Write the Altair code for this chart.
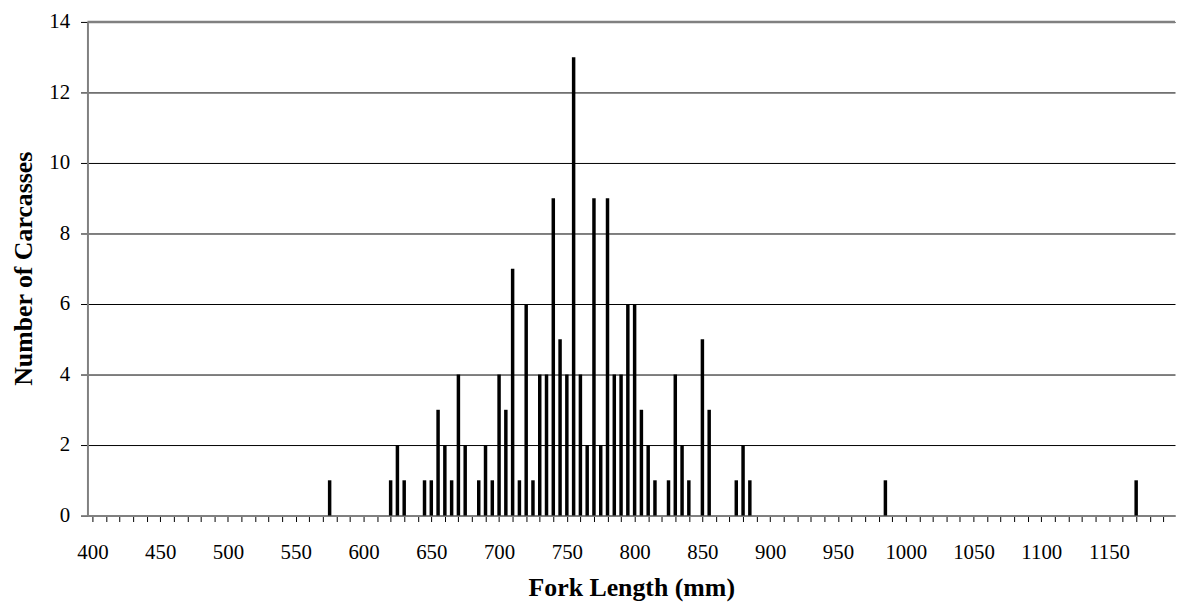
import altair as alt
import pandas as pd

fork_length = [575, 620, 625, 630, 645, 650, 655, 660, 665, 670, 675, 685, 690, 695,
               700, 705, 710, 715, 720, 725, 730, 735, 740, 745, 750, 755, 760, 765,
               770, 775, 780, 785, 790, 795, 800, 805, 810, 815, 825, 830, 835, 840,
               850, 855, 875, 880, 885, 985, 1170]
carcasses = [1, 1, 2, 1, 1, 1, 3, 2, 1, 4, 2, 1, 2, 1,
             4, 3, 7, 1, 6, 1, 4, 4, 9, 5, 4, 13, 4, 2,
             9, 2, 9, 4, 4, 6, 6, 3, 2, 1, 1, 4, 2, 1,
             5, 3, 1, 2, 1, 1, 1]
x_ticks = list(range(400, 1191, 10))
y_ticks = [0, 2, 4, 6, 8, 10, 12, 14]

df = pd.DataFrame({"len": fork_length, "n": carcasses})
FONT = "Liberation Serif"

x_enc = alt.X(
    "len:Q",
    scale=alt.Scale(domain=[400, 1195], nice=False, zero=False),
    axis=alt.Axis(
        values=x_ticks,
        format="d",
        labelExpr="datum.value % 50 == 0 ? datum.label : ''",
        grid=False,
        tickSize=6,
        tickColor="#000000",
        tickWidth=1,
        domainColor="#808080",
        domainWidth=2,
        labelPadding=20,
        labelFont=FONT,
        labelFontSize=21,
        labelColor="#000000",
        title="Fork Length (mm)",
        titleFont=FONT,
        titleFontSize=26,
        titleFontWeight="bold",
        titleColor="#000000",
        titleBaseline="alphabetic",
        titleY=80,
        titleX=547.5,
        labelFlush=False,
        labelOverlap=False,
    ),
)

y_enc = alt.Y(
    "n:Q",
    scale=alt.Scale(domain=[0, 14], nice=False),
    axis=alt.Axis(
        values=y_ticks,
        grid=True,
        gridColor="#000000",
        gridWidth=1,
        tickSize=7,
        tickColor="#000000",
        domainColor="#808080",
        domainWidth=2,
        labelPadding=11,
        labelFont=FONT,
        labelFontSize=21,
        labelColor="#000000",
        title="Number of Carcasses",
        titleFont=FONT,
        titleFontSize=26,
        titleFontWeight="bold",
        titleColor="#000000",
        titleAngle=270,
        titleBaseline="alphabetic",
        titleX=-56,
        titleY=248,
    ),
)

bars = alt.Chart(df).mark_bar(color="#000000", size=3.5).encode(x=x_enc, y=y_enc)

top_line = alt.Chart(pd.DataFrame({"v": [14]})).mark_rule(
    color="#808080", strokeWidth=2.5
).encode(y=alt.Y("v:Q", scale=alt.Scale(domain=[0, 14], nice=False)))

chart = (
    alt.layer(bars, top_line)
    .properties(
        width=1095,
        height=497,
        autosize=alt.AutoSizeParams(type="none"),
        padding={"left": 80, "top": 12, "right": 2, "bottom": 85},
        background="#ffffff",
    )
    .configure_view(stroke=None)
)

chart.save("out.html", embed_options={"renderer": "svg", "actions": False})
